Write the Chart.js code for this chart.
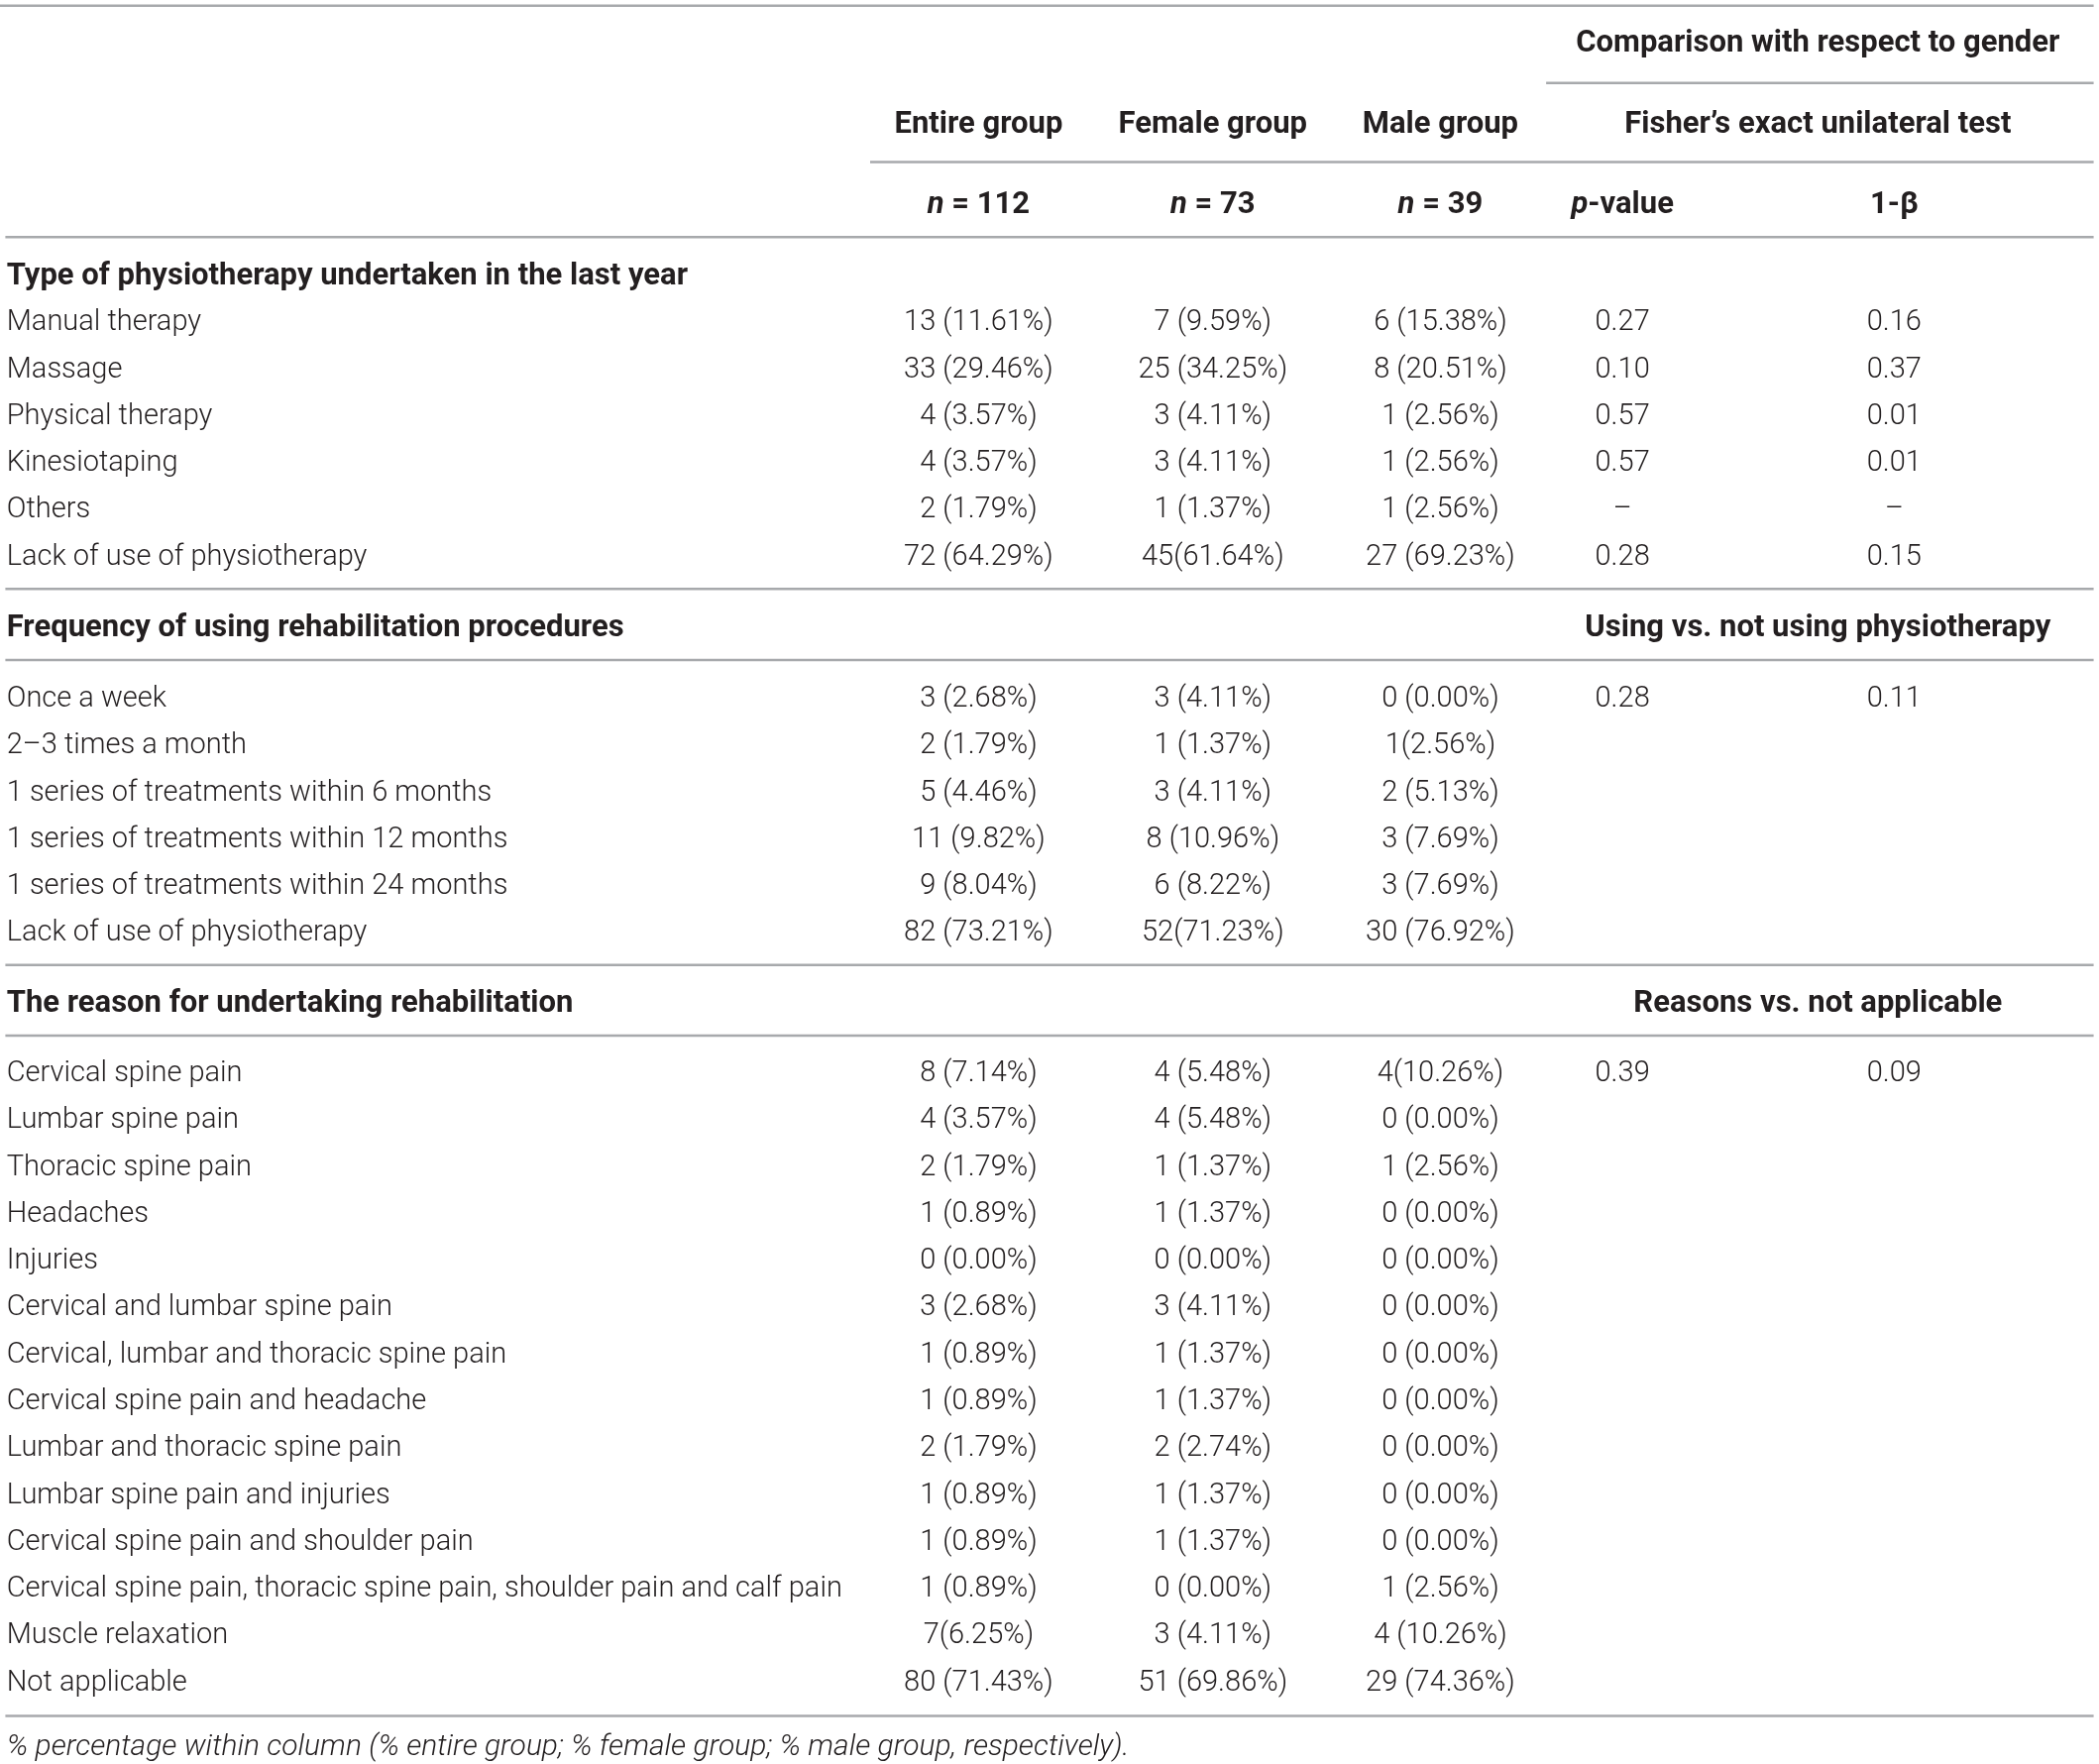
<!DOCTYPE html>
<html>
<head>
<meta charset="utf-8">
<script src="https://cdn.jsdelivr.net/npm/chart.js@4.4.1/dist/chart.umd.min.js"></script>
<style>
  html, body { margin: 0; padding: 0; background: #fff; }
  canvas { display: block; }
</style>
</head>
<body>
<canvas id="tbl" width="2118" height="1780"></canvas>
<script>
// ---- table data ----
const headCols = ['Entire group', 'Female group', 'Male group']
const headN = ['*n* = 112', '*n* = 73', '*n* = 39']
const headTest = 'Fisher\u2019s exact unilateral test'
const headStats = ['*p*-value', '1-\u03b2']
const headTop = 'Comparison with respect to gender'

const sec1Title = 'Type of physiotherapy undertaken in the last year'
const sec1Labels = ['Manual therapy', 'Massage', 'Physical therapy', 'Kinesiotaping', 'Others', 'Lack of use of physiotherapy']
const sec1Entire = ['13 (11.61%)', '33 (29.46%)', '4 (3.57%)', '4 (3.57%)', '2 (1.79%)', '72 (64.29%)']
const sec1Female = ['7 (9.59%)', '25 (34.25%)', '3 (4.11%)', '3 (4.11%)', '1 (1.37%)', '45(61.64%)']
const sec1Male = ['6 (15.38%)', '8 (20.51%)', '1 (2.56%)', '1 (2.56%)', '1 (2.56%)', '27 (69.23%)']
const sec1P = ['0.27', '0.10', '0.57', '0.57', '\u2013', '0.28']
const sec1Beta = ['0.16', '0.37', '0.01', '0.01', '\u2013', '0.15']

const sec2Title = 'Frequency of using rehabilitation procedures'
const sec2Test = 'Using vs. not using physiotherapy'
const sec2Labels = ['Once a week', '2\u20133 times a month', '1 series of treatments within 6 months', '1 series of treatments within 12 months', '1 series of treatments within 24 months', 'Lack of use of physiotherapy']
const sec2Entire = ['3 (2.68%)', '2 (1.79%)', '5 (4.46%)', '11 (9.82%)', '9 (8.04%)', '82 (73.21%)']
const sec2Female = ['3 (4.11%)', '1 (1.37%)', '3 (4.11%)', '8 (10.96%)', '6 (8.22%)', '52(71.23%)']
const sec2Male = ['0 (0.00%)', '1(2.56%)', '2 (5.13%)', '3 (7.69%)', '3 (7.69%)', '30 (76.92%)']
const sec2P = ['0.28']
const sec2Beta = ['0.11']

const sec3Title = 'The reason for undertaking rehabilitation'
const sec3Test = 'Reasons vs. not applicable'
const sec3Labels = ['Cervical spine pain', 'Lumbar spine pain', 'Thoracic spine pain', 'Headaches', 'Injuries', 'Cervical and lumbar spine pain', 'Cervical, lumbar and thoracic spine pain', 'Cervical spine pain and headache', 'Lumbar and thoracic spine pain', 'Lumbar spine pain and injuries', 'Cervical spine pain and shoulder pain', 'Cervical spine pain, thoracic spine pain, shoulder pain and calf pain', 'Muscle relaxation', 'Not applicable']
const sec3Entire = ['8 (7.14%)', '4 (3.57%)', '2 (1.79%)', '1 (0.89%)', '0 (0.00%)', '3 (2.68%)', '1 (0.89%)', '1 (0.89%)', '2 (1.79%)', '1 (0.89%)', '1 (0.89%)', '1 (0.89%)', '7(6.25%)', '80 (71.43%)']
const sec3Female = ['4 (5.48%)', '4 (5.48%)', '1 (1.37%)', '1 (1.37%)', '0 (0.00%)', '3 (4.11%)', '1 (1.37%)', '1 (1.37%)', '2 (2.74%)', '1 (1.37%)', '1 (1.37%)', '0 (0.00%)', '3 (4.11%)', '51 (69.86%)']
const sec3Male = ['4(10.26%)', '0 (0.00%)', '1 (2.56%)', '0 (0.00%)', '0 (0.00%)', '0 (0.00%)', '0 (0.00%)', '0 (0.00%)', '0 (0.00%)', '0 (0.00%)', '0 (0.00%)', '1 (2.56%)', '4 (10.26%)', '29 (74.36%)']
const sec3P = ['0.39']
const sec3Beta = ['0.09']

const footnote = '% percentage within column (% entire group; % female group; % male group, respectively).'

// ---- layout (x in table units, y in row units) ----
const W = 1568
const ROWS = 1318 / 35
const col = { label: 5, entire: 731, female: 906, male: 1076, p: 1212, beta: 1415, cmp: 1358 }
const secY = [5.9, 13.41, 21.44]   // section title rows
const rowStart = [6.9, 14.93, 22.93]
const headY = { top: 0.93, names: 2.67, n: 4.38, foot: 37.3 }

const FONT = 'Roboto, "Liberation Sans", sans-serif'
const SIZE = { 300: 29, 700: 31, foot: 30 }
const INK = '#231f20'
const RULE = '#a7a9ac'

// build a text dataset: one invisible point per cell, text drawn at the point
function cells(x, align, weight, style, texts, ys) {
  return {
    type: 'scatter',
    data: texts.map((t, i) => ({ x: x, y: ys[i] })),
    texts: texts,
    align: align, weight: weight, fstyle: style,
    pointRadius: 0, pointHoverRadius: 0, showLine: false
  }
}
function rows(n, start) { return Array.from({ length: n }, (_, i) => start + i) }
function rule(x0, x1, y) {
  return {
    type: 'line',
    data: [{ x: x0, y: y }, { x: x1, y: y }],
    borderColor: RULE, borderWidth: 2.5, pointRadius: 0, pointHoverRadius: 0, fill: false
  }
}

const datasets = []
// rules
;[
  [0, 1564, 0.12], [1155, 1564, 1.77], [650, 1564, 3.46], [4, 1564, 5.06],
  [4, 1564, 12.57], [4, 1564, 14.09], [4, 1564, 20.6], [4, 1564, 22.11], [4, 1564, 36.63]
].forEach(r => datasets.push(rule(r[0], r[1], r[2])))

// headers
datasets.push(cells(col.cmp, 'center', 700, 'normal', [headTop, headTest, sec2Test, sec3Test], [headY.top, headY.names, secY[1], secY[2]]))
datasets.push(cells(col.entire, 'center', 700, 'normal', [headCols[0], headN[0]], [headY.names, headY.n]))
datasets.push(cells(col.female, 'center', 700, 'normal', [headCols[1], headN[1]], [headY.names, headY.n]))
datasets.push(cells(col.male, 'center', 700, 'normal', [headCols[2], headN[2]], [headY.names, headY.n]))
datasets.push(cells(col.p, 'center', 700, 'normal', [headStats[0]], [headY.n]))
datasets.push(cells(col.beta, 'center', 700, 'normal', [headStats[1]], [headY.n]))
datasets.push(cells(col.label, 'left', 700, 'normal', [sec1Title, sec2Title, sec3Title], secY))

// body
const secs = [
  [sec1Labels, sec1Entire, sec1Female, sec1Male, sec1P, sec1Beta],
  [sec2Labels, sec2Entire, sec2Female, sec2Male, sec2P, sec2Beta],
  [sec3Labels, sec3Entire, sec3Female, sec3Male, sec3P, sec3Beta]
]
secs.forEach((s, k) => {
  const ys = rows(s[0].length, rowStart[k])
  datasets.push(cells(col.label, 'left', 300, 'normal', s[0], ys))
  datasets.push(cells(col.entire, 'center', 300, 'normal', s[1], ys))
  datasets.push(cells(col.female, 'center', 300, 'normal', s[2], ys))
  datasets.push(cells(col.male, 'center', 300, 'normal', s[3], ys))
  datasets.push(cells(col.p, 'center', 300, 'normal', s[4], ys))
  datasets.push(cells(col.beta, 'center', 300, 'normal', s[5], ys))
})
datasets.push(cells(col.label, 'left', 300, 'italic', [footnote], [headY.foot]))

// draws cell text; *x* marks an italic run
const cellText = {
  id: 'cellText',
  afterDatasetsDraw(chart) {
    const ctx = chart.ctx
    ctx.save()
    ctx.fillStyle = INK
    ctx.textBaseline = 'middle'
    chart.data.datasets.forEach((ds, di) => {
      if (!ds.texts) return
      const meta = chart.getDatasetMeta(di)
      const size = ds.fstyle === 'italic' ? SIZE.foot : SIZE[ds.weight]
      meta.data.forEach((pt, i) => {
        const parts = ds.texts[i].split('*').map((s, j) => ({ s: s, it: j % 2 === 1 || ds.fstyle === 'italic' }))
        const fontOf = p => (p.it ? 'italic ' : '') + ds.weight + ' ' + size + 'px ' + FONT
        let total = 0
        parts.forEach(p => { ctx.font = fontOf(p); p.w = ctx.measureText(p.s).width; total += p.w })
        let x = ds.align === 'center' ? pt.x - total / 2 : pt.x
        ctx.textAlign = 'left'
        parts.forEach(p => { ctx.font = fontOf(p); ctx.fillText(p.s, x, pt.y); x += p.w })
      })
    })
    ctx.restore()
  }
}

new Chart(document.getElementById('tbl'), {
  data: { datasets: datasets },
  options: {
    responsive: false,
    devicePixelRatio: 1,
    animation: false,
    events: [],
    layout: { padding: 0 },
    plugins: { legend: { display: false }, tooltip: { enabled: false } },
    scales: {
      x: { type: 'linear', min: 0, max: W, display: false },
      y: { type: 'linear', min: 0, max: ROWS, reverse: true, display: false }
    }
  },
  plugins: [cellText]
})
</script>
</body>
</html>
